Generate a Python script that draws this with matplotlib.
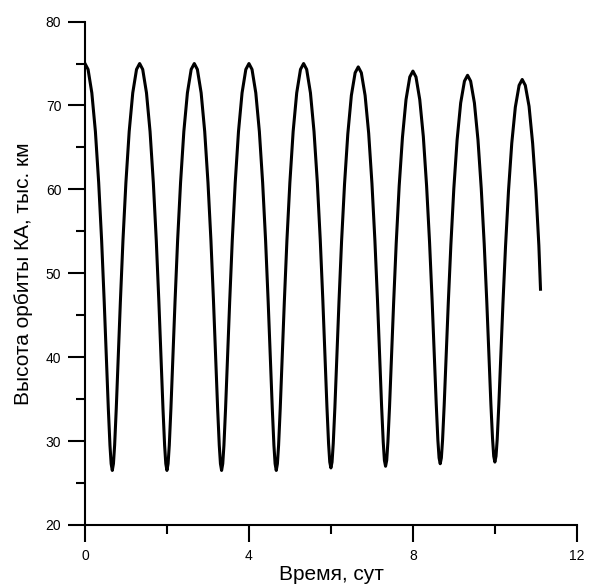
import matplotlib
matplotlib.use("Agg")
import matplotlib.pyplot as plt
from matplotlib.ticker import MultipleLocator

plt.rcParams['font.family'] = ['Liberation Sans', 'DejaVu Sans']

# orbit altitude over time, one line per half-revolution
time_days = [
    0.000,
    0.075, 0.167, 0.254, 0.334, 0.406, 0.469, 0.523, 0.569, 0.609, 0.638, 0.666,
    0.694, 0.723, 0.763, 0.809, 0.863, 0.926, 0.998, 1.078, 1.165, 1.257, 1.333,
    1.408, 1.500, 1.587, 1.667, 1.739, 1.802, 1.856, 1.902, 1.942, 1.971, 1.999,
    2.027, 2.056, 2.096, 2.142, 2.196, 2.259, 2.331, 2.411, 2.498, 2.590, 2.666,
    2.741, 2.833, 2.920, 3.000, 3.072, 3.135, 3.189, 3.235, 3.275, 3.304, 3.332,
    3.360, 3.389, 3.429, 3.475, 3.529, 3.592, 3.664, 3.744, 3.831, 3.923, 3.999,
    4.074, 4.166, 4.253, 4.333, 4.405, 4.468, 4.522, 4.568, 4.608, 4.637, 4.665,
    4.693, 4.722, 4.762, 4.808, 4.862, 4.925, 4.997, 5.077, 5.164, 5.256, 5.332,
    5.407, 5.499, 5.586, 5.666, 5.738, 5.801, 5.855, 5.901, 5.941, 5.970, 5.998,
    6.026, 6.055, 6.095, 6.141, 6.195, 6.258, 6.330, 6.410, 6.497, 6.589, 6.665,
    6.740, 6.832, 6.919, 6.999, 7.071, 7.134, 7.188, 7.234, 7.274, 7.303, 7.331,
    7.359, 7.388, 7.428, 7.474, 7.528, 7.591, 7.663, 7.743, 7.830, 7.922, 7.998,
    8.073, 8.165, 8.252, 8.332, 8.404, 8.467, 8.521, 8.567, 8.607, 8.636, 8.664,
    8.692, 8.721, 8.761, 8.807, 8.861, 8.924, 8.996, 9.076, 9.163, 9.255, 9.331,
    9.406, 9.498, 9.585, 9.665, 9.737, 9.800, 9.854, 9.900, 9.940, 9.969, 9.997,
    10.025, 10.054, 10.094, 10.140, 10.194, 10.257, 10.329, 10.409, 10.496, 10.588, 10.664,
    10.739, 10.831, 10.918, 10.998, 11.070, 11.110,
]

height_km = [
    75.0,
    74.3, 71.5, 66.9, 60.8, 53.9, 46.6, 39.8, 33.9, 29.5, 27.3, 26.5,
    27.3, 29.5, 33.9, 39.8, 46.6, 53.9, 60.8, 66.9, 71.5, 74.3, 75.0,
    74.3, 71.5, 66.9, 60.8, 53.9, 46.6, 39.8, 33.9, 29.5, 27.3, 26.5,
    27.3, 29.5, 33.9, 39.8, 46.6, 53.9, 60.8, 66.9, 71.5, 74.3, 75.0,
    74.3, 71.5, 66.9, 60.8, 53.9, 46.6, 39.8, 33.9, 29.5, 27.3, 26.5,
    27.3, 29.5, 33.9, 39.8, 46.6, 53.9, 60.8, 66.9, 71.5, 74.3, 75.0,
    74.3, 71.5, 66.9, 60.8, 53.9, 46.6, 39.8, 33.9, 29.5, 27.3, 26.5,
    27.3, 29.5, 33.9, 39.8, 46.6, 53.9, 60.8, 66.9, 71.5, 74.3, 75.0,
    74.3, 71.5, 66.9, 60.9, 54.0, 46.8, 39.9, 34.1, 29.7, 27.5, 26.8,
    27.5, 29.7, 34.0, 39.8, 46.6, 53.8, 60.6, 66.6, 71.2, 73.9, 74.6,
    73.9, 71.2, 66.7, 60.7, 53.9, 46.8, 40.0, 34.2, 29.9, 27.7, 27.0,
    27.7, 29.9, 34.1, 39.9, 46.5, 53.6, 60.4, 66.2, 70.7, 73.4, 74.1,
    73.4, 70.7, 66.3, 60.4, 53.7, 46.7, 40.0, 34.4, 30.1, 28.0, 27.3,
    28.0, 30.1, 34.3, 39.9, 46.5, 53.4, 60.1, 65.9, 70.3, 72.9, 73.6,
    72.9, 70.3, 65.9, 60.1, 53.5, 46.6, 40.1, 34.4, 30.3, 28.2, 27.5,
    28.2, 30.2, 34.4, 39.9, 46.4, 53.2, 59.8, 65.5, 69.8, 72.4, 73.1,
    72.4, 69.9, 65.5, 59.9, 53.3, 48.1,
]

x_ticks = [0, 4, 8, 12]
y_ticks = [20, 30, 40, 50, 60, 70, 80]

fig = plt.figure(figsize=(5.91, 5.85), dpi=100)
ax = fig.add_axes([0.1438, 0.1026, 0.8325, 0.8605])

ax.plot(time_days, height_km, color='black', linewidth=2.2, solid_joinstyle='round')

ax.set_xlim(0, 12)
ax.set_ylim(20, 80)
ax.set_xticks(x_ticks)
ax.set_yticks(y_ticks)
ax.xaxis.set_minor_locator(MultipleLocator(2))
ax.yaxis.set_minor_locator(MultipleLocator(5))

for side in ['top', 'right']:
    ax.spines[side].set_visible(False)
for side in ['left', 'bottom']:
    ax.spines[side].set_linewidth(1.5)

ax.tick_params(which='major', direction='out', length=12.5, width=1.5, labelsize=10, pad=4.5)
ax.tick_params(which='minor', direction='out', length=6.5, width=1.5)
ax.tick_params(axis='y', which='major', pad=4.5)

ax.set_xlabel('Время, сут', fontsize=15, labelpad=2)
ax.set_ylabel('Высота орбиты КА, тыс. км', fontsize=15, labelpad=9)

fig.savefig('out.png', dpi=100)
